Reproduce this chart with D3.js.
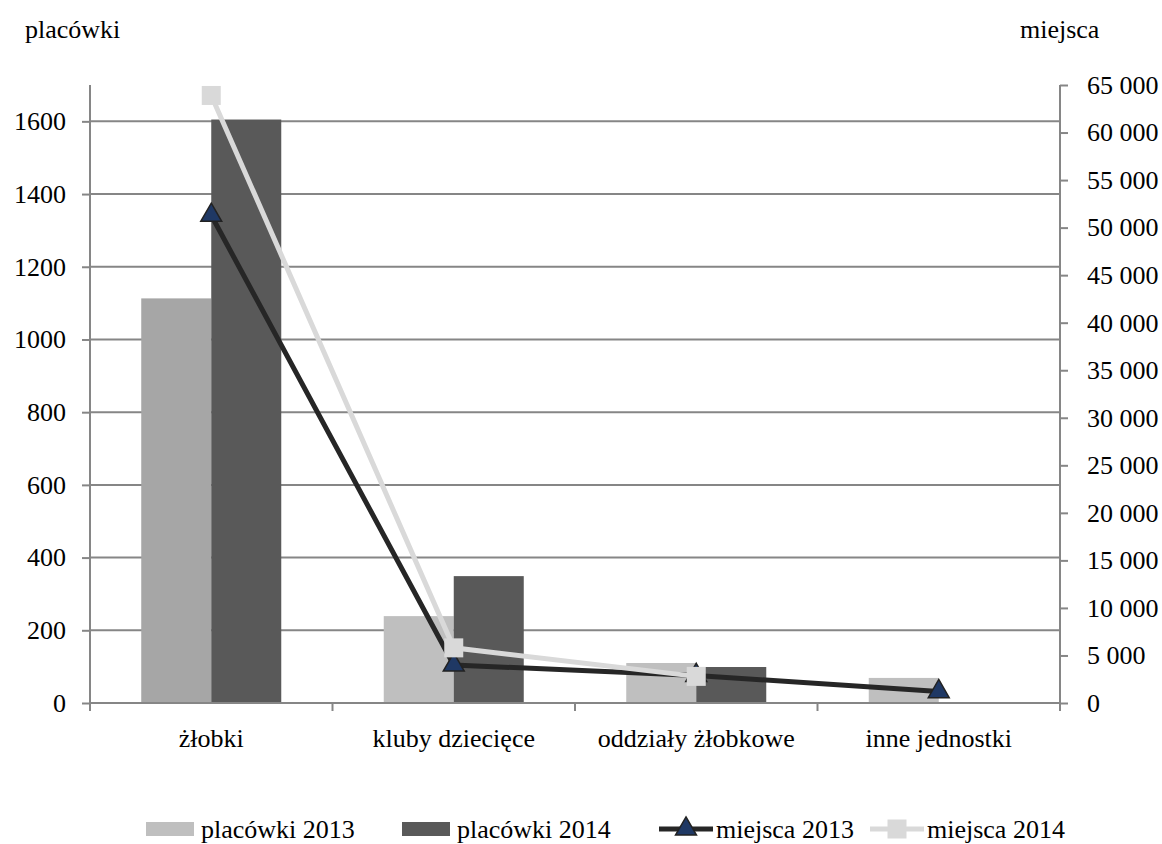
<!DOCTYPE html>
<html><head><meta charset="utf-8">
<script src="https://cdn.jsdelivr.net/npm/d3@7"></script>
</head>
<body style="margin:0;background:#fff">
<svg id="c" width="1162" height="844"></svg>
<script>
const categories = ["żłobki","kluby dziecięce","oddziały żłobkowe","inne jednostki"];
const placowki2013 = [1113, 239, 110, 69];
const placowki2014 = [1605, 349, 99, null];
const miejsca2013 = [51300, 4000, 2900, 1200];
const miejsca2014 = [63900, 5800, 2800, null];
const leftTicks = [0,200,400,600,800,1000,1200,1400,1600];
const rightTicks = d3.range(0, 65001, 5000);
const colors2013 = ["#a6a6a6","#bfbfbf","#bfbfbf","#bfbfbf"];
const color2014 = "#595959";
const lineColor2013 = "#262626";
const lineColor2014 = "#d9d9d9";
const legendLabels = ["placówki 2013","placówki 2014","miejsca 2013","miejsca 2014"];

const FONT = "Liberation Serif";
const fs = 26;
const svg = d3.select("#c");
const m = {l:90, r:1060, t:85, b:703};
const x = d3.scaleBand().domain(categories).range([m.l, m.r]);
const yL = d3.scaleLinear().domain([0,1700]).range([m.b, m.t]);
const yR = d3.scaleLinear().domain([0,65000]).range([m.b, m.t]);
const axisCol = "#868686";

// gridlines
svg.append("g").selectAll("line").data(leftTicks.filter(d=>d>0)).join("line")
  .attr("x1", m.l).attr("x2", m.r).attr("y1", d=>yL(d)).attr("y2", d=>yL(d))
  .attr("stroke", axisCol).attr("stroke-width", 2);

// bars
const inner = d3.scaleBand().domain(["a","b"]).range([0, x.bandwidth()]).paddingOuter(0.732).paddingInner(0);
const gb = svg.append("g");
categories.forEach((c,i)=>{
  if (placowki2013[i]!=null) gb.append("rect").attr("x", x(c)+inner("a")).attr("width", inner.bandwidth())
    .attr("y", yL(placowki2013[i])).attr("height", yL(0)-yL(placowki2013[i])).attr("fill", colors2013[i]);
  if (placowki2014[i]!=null) gb.append("rect").attr("x", x(c)+inner("b")).attr("width", inner.bandwidth())
    .attr("y", yL(placowki2014[i])).attr("height", yL(0)-yL(placowki2014[i])).attr("fill", color2014);
});

// axes
const gl = svg.append("g").attr("transform", `translate(${m.l},0)`)
  .call(d3.axisLeft(yL).tickValues(leftTicks).tickSize(8).tickPadding(16).tickFormat(d3.format("d")));
const gr = svg.append("g").attr("transform", `translate(${m.r},0)`)
  .call(d3.axisRight(yR).tickValues(rightTicks).tickSize(8).tickPadding(19)
    .tickFormat(d=> d3.format(",")(d).replace(/,/g," ")));
const gx = svg.append("g").attr("transform", `translate(0,${m.b})`)
  .call(d3.axisBottom(x).tickSize(0).tickPadding(26));
const sepX = categories.map(c=>x(c)).concat([m.r]);
svg.append("g").selectAll("line").data(sepX).join("line")
  .attr("x1", d=>d).attr("x2", d=>d).attr("y1", m.b).attr("y2", m.b+8)
  .attr("stroke", axisCol).attr("stroke-width", 2);
[gl,gr,gx].forEach(g=>{
  g.attr("font-family", FONT).attr("font-size", fs);
  g.selectAll("path.domain").attr("stroke", axisCol).attr("stroke-width", 2);
  g.selectAll(".tick line").attr("stroke", axisCol).attr("stroke-width", 2);
  g.selectAll("text").attr("font-family", FONT).attr("font-size", fs).attr("fill","#000");
});
gl.select("path.domain").attr("d", `M0,${m.t}V${m.b}`);
gr.select("path.domain").attr("d", `M0,${m.t}V${m.b}`);
gx.select("path.domain").attr("d", `M${m.l},0H${m.r}`);

// lines
const cx = c => x(c) + x.bandwidth()/2;
const lineGen = d3.line().defined(d=>d.v!=null).x(d=>cx(d.c)).y(d=>yR(d.v));
const d13 = categories.map((c,i)=>({c, v:miejsca2013[i]}));
const d14 = categories.map((c,i)=>({c, v:miejsca2014[i]}));
svg.append("path").datum(d13).attr("d", lineGen).attr("fill","none").attr("stroke", lineColor2013).attr("stroke-width", 5);
const tri = d3.symbol().type(d3.symbolTriangle).size(190);
svg.append("g").selectAll("path").data(d13.filter(d=>d.v!=null)).join("path")
  .attr("d", tri).attr("transform", d=>`translate(${cx(d.c)},${yR(d.v)})`)
  .attr("fill","#1f3864").attr("stroke","#222").attr("stroke-width",1.5);
svg.append("path").datum(d14).attr("d", lineGen).attr("fill","none").attr("stroke", lineColor2014).attr("stroke-width", 5);
svg.append("g").selectAll("rect").data(d14.filter(d=>d.v!=null)).join("rect")
  .attr("x", d=>cx(d.c)-9.5).attr("y", d=>yR(d.v)-9.5).attr("width",19).attr("height",19)
  .attr("fill", lineColor2014);

// axis titles
svg.append("text").attr("x", 25).attr("y", 38).attr("font-family", FONT).attr("font-size", fs).text("placówki");
svg.append("text").attr("x", 1020).attr("y", 38).attr("font-family", FONT).attr("font-size", fs).text("miejsca");

// legend
const lg = svg.append("g");
const ly = 829;
const items = [
  {x:146, type:"rect", col:colors2013[1]},
  {x:402, type:"rect", col:color2014},
  {x:659, type:"line", col:lineColor2013, marker:"tri"},
  {x:870, type:"line", col:lineColor2014, marker:"sq"}
];
items.forEach((it,i)=>{
  if (it.type==="rect") {
    lg.append("rect").attr("x", it.x).attr("y", ly-7).attr("width",48).attr("height",14).attr("fill", it.col);
  } else {
    lg.append("line").attr("x1", it.x).attr("x2", it.x+54).attr("y1", ly).attr("y2", ly).attr("stroke", it.col).attr("stroke-width",5);
    if (it.marker==="tri") lg.append("path").attr("d", tri).attr("transform",`translate(${it.x+27},${ly})`).attr("fill","#1f3864").attr("stroke","#222").attr("stroke-width",1.5);
    else lg.append("rect").attr("x", it.x+27-9.5).attr("y", ly-9.5).attr("width",19).attr("height",19).attr("fill", it.col);
  }
  lg.append("text").attr("x", it.x + (it.type==="rect"?55:57)).attr("y", ly).attr("dy","0.35em")
    .attr("font-family", FONT).attr("font-size", fs).text(legendLabels[i]);
});
</script></body></html>
